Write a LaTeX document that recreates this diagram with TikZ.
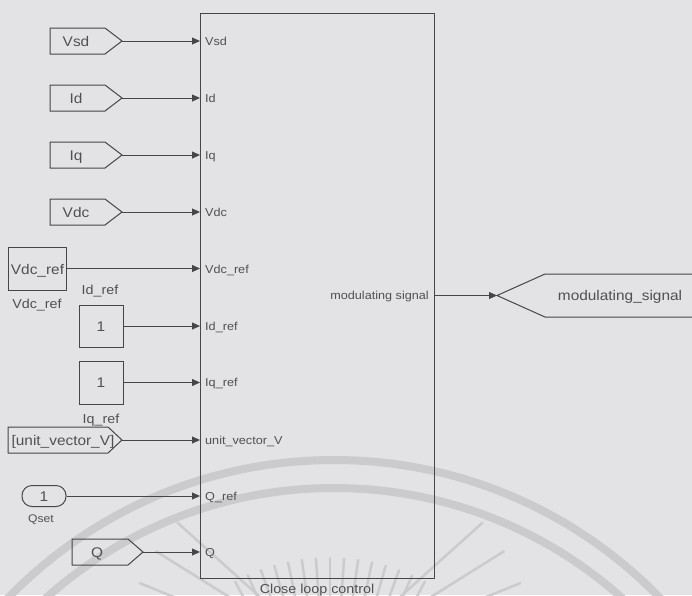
\documentclass[tikz,border=0pt]{standalone}
\usepackage{fontspec}
\setmainfont{Liberation Sans}[FakeStretch=1.1]
\usetikzlibrary{arrows.meta}
\definecolor{bg}{RGB}{227,227,229}
\definecolor{wm}{RGB}{203,203,205}
\definecolor{ln}{RGB}{70,70,70}
\definecolor{tx}{RGB}{80,80,80}
\tikzset{
  blk/.style={draw=ln, line width=1pt},
  conn/.style={draw=ln, line width=0.8pt, -{Triangle[length=8pt,width=7pt]}},
  tagtxt/.style={text=tx, font=\fontsize{14}{14}\selectfont, inner sep=0pt, anchor=base},
  porttxt/.style={text=tx, font=\fontsize{11.5}{12}\selectfont, inner sep=0pt, anchor=base west},
  captxt/.style={text=tx, font=\fontsize{13}{13}\selectfont, inner sep=0pt, anchor=base},
  wmline/.style={draw=wm, line cap=round},
}
\begin{document}
\begin{tikzpicture}[x=1pt,y=-1pt]
\useasboundingbox (0,0) rectangle (692,595);
\fill[bg] (0,0) rectangle (692,595);
% watermark
\begin{scope}
\clip (0,0) rectangle (692,595);
\draw[wmline, line width=8pt] (334,914) circle[radius=454pt];
\draw[wmline, line width=8pt] (334,920) circle[radius=432pt];
\foreach \a in {62,66,...,118}
  \draw[wmline, line width=2.5pt] (330,760) ++(\a:150pt) -- ++(\a:52pt);
\foreach \a in {22,32,42,138,148,158}
  \draw[wmline, line width=2.5pt] (330,660) ++(\a:95pt) -- ++(\a:110pt);
\end{scope}
% main block
\node[blk, minimum width=234pt, minimum height=565pt, anchor=north west, inner sep=0pt] (cl) at (200,13) {};
\node[captxt] (clcap) at (317,593) {Close loop control};
% From tags
\draw[blk] (50,28) -- (105,28) -- (122,41) -- (105,54) -- (50,54) -- cycle;
\coordinate (tVsd) at (122,41);
\node[tagtxt] (fVsd) at (76,46) {Vsd};
\draw[blk] (50,85) -- (105,85) -- (122,98) -- (105,111) -- (50,111) -- cycle;
\coordinate (tId) at (122,98);
\node[tagtxt] (fId) at (76,103) {Id};
\draw[blk] (50,142) -- (105,142) -- (122,155) -- (105,168) -- (50,168) -- cycle;
\coordinate (tIq) at (122,155);
\node[tagtxt] (fIq) at (76,160) {Iq};
\draw[blk] (50,199) -- (105,199) -- (122,212) -- (105,225) -- (50,225) -- cycle;
\coordinate (tVdc) at (122,212);
\node[tagtxt] (fVdc) at (76,217) {Vdc};
\draw[blk] (8,427) -- (108,427) -- (122,440) -- (108,453) -- (8,453) -- cycle;
\coordinate (tUv) at (122,440);
\node[tagtxt] (fUv) at (63,445) {[unit\_vector\_V]};
\draw[blk] (72,539) -- (128,539) -- (143,552) -- (128,565) -- (72,565) -- cycle;
\coordinate (tQ) at (143,552);
\node[tagtxt] (fQ) at (97,557) {Q};
% constants
\node[blk, minimum width=58pt, minimum height=43pt, inner sep=0pt] (cVdcref) at (37,268.5) {};
\node[tagtxt] at (37.5,274) {Vdc\_ref};
\node[captxt] (lVdcref) at (37,308) {Vdc\_ref};
\node[blk, minimum width=44pt, minimum height=42pt, inner sep=0pt] (cIdref) at (101,326) {};
\node[tagtxt] at (101,331) {1};
\node[captxt] (lIdref) at (100,294) {Id\_ref};
\node[blk, minimum width=44pt, minimum height=43pt, inner sep=0pt] (cIqref) at (101,382.5) {};
\node[tagtxt] at (101,387.5) {1};
\node[captxt] (lIqref) at (101,423) {Iq\_ref};
\node[blk, rounded corners=10pt, minimum width=44pt, minimum height=21pt, inner sep=0pt] (cQset) at (44,496) {};
\node[tagtxt] at (44,501) {1};
\node[text=tx, font=\fontsize{11}{11}\selectfont, inner sep=0pt, anchor=base] (lQset) at (41,522) {Qset};
% connectors
\draw[conn] (tVsd) -- (cl.west |- tVsd);
\draw[conn] (tId) -- (cl.west |- tId);
\draw[conn] (tIq) -- (cl.west |- tIq);
\draw[conn] (tVdc) -- (cl.west |- tVdc);
\draw[conn] (cVdcref.east) -- (cl.west |- cVdcref.east);
\draw[conn] (cIdref.east) -- (cl.west |- cIdref.east);
\draw[conn] (cIqref.east) -- (cl.west |- cIqref.east);
\draw[conn] (tUv) -- (cl.west |- tUv);
\draw[conn] (cQset.east) -- (cl.west |- cQset.east);
\draw[conn] (tQ) -- (cl.west |- tQ);
% port labels
\node[porttxt] at (205,45) {Vsd};
\node[porttxt] at (205,102) {Id};
\node[porttxt] at (205,159) {Iq};
\node[porttxt] at (205,216) {Vdc};
\node[porttxt] at (205,273) {Vdc\_ref};
\node[porttxt] at (205,330) {Id\_ref};
\node[porttxt] at (205,386) {Iq\_ref};
\node[porttxt] at (205,444) {unit\_vector\_V};
\node[porttxt] at (205,500) {Q\_ref};
\node[porttxt] at (205,556) {Q};
\node[text=tx, font=\fontsize{11.5}{12}\selectfont, inner sep=0pt, anchor=base east] (pOut) at (429,299.5) {modulating signal};
% output goto
\coordinate (gTip) at (497,295.5);
\draw[blk] (700,274) -- (545,274) -- (gTip) -- (545,317) -- (700,317);
\node[tagtxt] (gOut) at (620,300.5) {modulating\_signal};
\draw[conn] (cl.east |- gTip) -- (gTip);
\end{tikzpicture}
\end{document}
